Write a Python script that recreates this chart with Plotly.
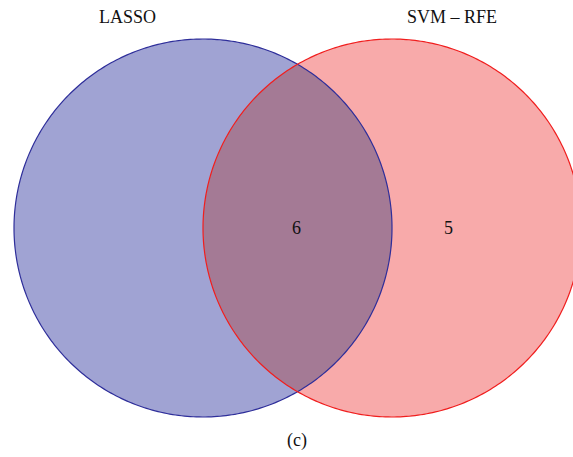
import numpy as np
import plotly.graph_objects as go

# Data
set_names = ["LASSO", "SVM – RFE"]
region_labels = ["A_only", "A_and_B", "B_only"]
region_counts = [0, 6, 5]
panel_label = "(c)"

# Layout constants (pixel coordinates)
W, H = 573, 457
R = 189
centers = [(203, 228), (392, 228)]
fill_colors = ["#A0A3D3", "#F8AAAA"]
line_colors = ["#2E2E9A", "#F01E1E"]
overlap_color = "#A47A95"

def circle_pts(cx, cy, r, n=400):
    t = np.linspace(0, 2*np.pi, n)
    return cx + r*np.cos(t), cy + r*np.sin(t)

def to_path(xs, ys):
    return "M " + " L ".join(f"{x:.2f},{y:.2f}" for x, y in zip(xs, ys)) + " Z"

fig = go.Figure()
shapes = []
for (cx, cy), fc in zip(centers, fill_colors):
    xs, ys = circle_pts(cx, cy, R)
    shapes.append(dict(type="path", path=to_path(xs, ys), fillcolor=fc,
                       line=dict(width=0), layer="below", xref="x", yref="y"))
(x1, y1), (x2, y2) = centers
d = x2 - x1
a = np.arccos((d/2)/R)
t1 = np.linspace(-a, a, 200)
t2 = np.linspace(np.pi - a, np.pi + a, 200)
lx = np.concatenate([x1 + R*np.cos(t1), x2 + R*np.cos(t2)])
ly = np.concatenate([y1 + R*np.sin(t1), y2 + R*np.sin(t2)])
shapes.append(dict(type="path", path=to_path(lx, ly), fillcolor=overlap_color,
                   line=dict(width=0), layer="below", xref="x", yref="y"))
for (cx, cy), lc in zip(centers, line_colors):
    xs, ys = circle_pts(cx, cy, R)
    shapes.append(dict(type="path", path=to_path(xs, ys), fillcolor="rgba(0,0,0,0)",
                       line=dict(width=1.2, color=lc), layer="above", xref="x", yref="y"))

font = dict(family="Liberation Serif, Times New Roman, serif", size=18, color="#111111")
annotations = []
label_pos = [(127, 17), (452, 17)]
for name, (x, y) in zip(set_names, label_pos):
    annotations.append(dict(x=x, y=y, text=name, showarrow=False, font=font, xref="x", yref="y"))
count_pos = [(108, 228), (296, 228), (448, 228)]
for c, (x, y) in zip(region_counts, count_pos):
    if c > 0:
        annotations.append(dict(x=x, y=y, text=str(c), showarrow=False, font=font, xref="x", yref="y"))
annotations.append(dict(x=297, y=440, text=panel_label, showarrow=False, font=font, xref="x", yref="y"))

fig.update_layout(
    width=W, height=H, margin=dict(l=0, r=0, t=0, b=0),
    paper_bgcolor="white", plot_bgcolor="white",
    shapes=shapes, annotations=annotations, showlegend=False,
    xaxis=dict(range=[0, W], visible=False, fixedrange=True),
    yaxis=dict(range=[H, 0], visible=False, fixedrange=True),
)
fig.write_html(
    "out.html",
    config={"displayModeBar": False, "staticPlot": True},
    post_script="document.body.style.margin='0';document.body.style.overflow='hidden';",
)
